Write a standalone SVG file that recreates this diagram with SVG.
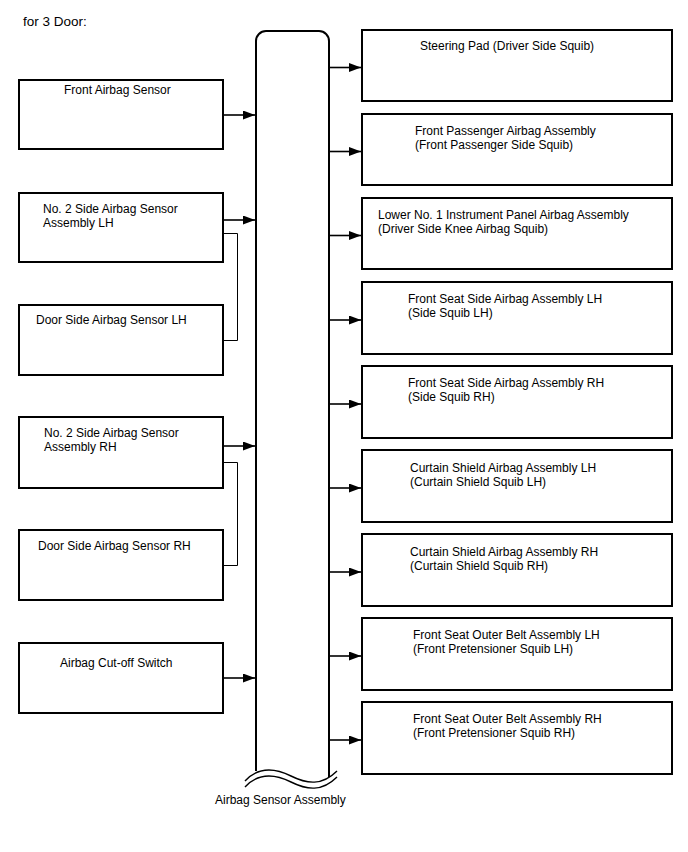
<svg xmlns="http://www.w3.org/2000/svg" width="688" height="852" viewBox="0 0 688 852">
<style>
  .box { fill: #fff; stroke: #000; stroke-width: 2; }
  .t { font-family: "Liberation Sans", Arial, sans-serif; font-size: 12px; fill: #000; }
  .arrow { stroke: #000; stroke-width: 1.6; fill: none; marker-end: url(#ah); }
  .bracket { stroke: #000; stroke-width: 1; fill: none; }
  .wave { stroke: #000; stroke-width: 1.4; fill: none; }
  .bar { stroke: #000; stroke-width: 2; fill: none; }
</style>
<defs>
  <marker id="ah" markerUnits="userSpaceOnUse" markerWidth="13" markerHeight="10" refX="12" refY="4.5" orient="auto">
    <path d="M0,0 L12,4.5 L0,9 Z" fill="#000"/>
  </marker>
</defs>
<rect width="688" height="852" fill="#fff"/>
<text class="t" x="23" y="26" style="font-size:13.5px">for 3 Door:</text>

<g id="airbag-sensor-assembly">
  <path class="bar" d="M256,771 L256,41 A10,10 0 0 1 266,31 L319,31 A10,10 0 0 1 329,41 L329,777"/>
  <path class="wave" d="M245,781 C258,767 275,768 291,776 S322,786 337,771"/>
  <path class="wave" d="M245,787 C258,773 275,774 291,782 S322,792 337,777"/>
  <text class="t" x="215" y="804">Airbag Sensor Assembly</text>
</g>

<g id="front-airbag-sensor">
  <rect class="box" x="19" y="80" width="204" height="69"/>
  <text class="t" x="64" y="94">Front Airbag Sensor</text>
</g>
<g id="no2-side-lh">
  <rect class="box" x="19" y="193" width="204" height="69"/>
  <text class="t" x="43" y="213">No. 2 Side Airbag Sensor</text>
  <text class="t" x="43" y="227">Assembly LH</text>
</g>
<g id="door-side-lh">
  <rect class="box" x="19" y="305" width="204" height="70"/>
  <text class="t" x="36" y="324">Door Side Airbag Sensor LH</text>
</g>
<g id="no2-side-rh">
  <rect class="box" x="19" y="417" width="204" height="71"/>
  <text class="t" x="44" y="437">No. 2 Side Airbag Sensor</text>
  <text class="t" x="44" y="451">Assembly RH</text>
</g>
<g id="door-side-rh">
  <rect class="box" x="19" y="530" width="204" height="70"/>
  <text class="t" x="38" y="550">Door Side Airbag Sensor RH</text>
</g>
<g id="cutoff-switch">
  <rect class="box" x="19" y="643" width="204" height="70"/>
  <text class="t" x="60" y="667">Airbag Cut-off Switch</text>
</g>

<g id="steering-pad">
  <rect class="box" x="362" y="30" width="310" height="71"/>
  <text class="t" x="420" y="50">Steering Pad (Driver Side Squib)</text>
</g>
<g id="front-passenger">
  <rect class="box" x="362" y="114" width="310" height="71"/>
  <text class="t" x="415" y="135">Front Passenger Airbag Assembly</text>
  <text class="t" x="415" y="149">(Front Passenger Side Squib)</text>
</g>
<g id="lower-no1">
  <rect class="box" x="362" y="198" width="310" height="71"/>
  <text class="t" x="378" y="219">Lower No. 1 Instrument Panel Airbag Assembly</text>
  <text class="t" x="378" y="233">(Driver Side Knee Airbag Squib)</text>
</g>
<g id="seat-side-lh">
  <rect class="box" x="362" y="282" width="310" height="72"/>
  <text class="t" x="408" y="303">Front Seat Side Airbag Assembly LH</text>
  <text class="t" x="408" y="317">(Side Squib LH)</text>
</g>
<g id="seat-side-rh">
  <rect class="box" x="362" y="366" width="310" height="72"/>
  <text class="t" x="408" y="387">Front Seat Side Airbag Assembly RH</text>
  <text class="t" x="408" y="401">(Side Squib RH)</text>
</g>
<g id="curtain-lh">
  <rect class="box" x="362" y="450" width="310" height="72"/>
  <text class="t" x="410" y="472">Curtain Shield Airbag Assembly LH</text>
  <text class="t" x="410" y="486">(Curtain Shield Squib LH)</text>
</g>
<g id="curtain-rh">
  <rect class="box" x="362" y="534" width="310" height="72"/>
  <text class="t" x="410" y="556">Curtain Shield Airbag Assembly RH</text>
  <text class="t" x="410" y="570">(Curtain Shield Squib RH)</text>
</g>
<g id="belt-lh">
  <rect class="box" x="362" y="618" width="310" height="72"/>
  <text class="t" x="413" y="639">Front Seat Outer Belt Assembly LH</text>
  <text class="t" x="413" y="653">(Front Pretensioner Squib LH)</text>
</g>
<g id="belt-rh">
  <rect class="box" x="362" y="702" width="310" height="72"/>
  <text class="t" x="413" y="723">Front Seat Outer Belt Assembly RH</text>
  <text class="t" x="413" y="737">(Front Pretensioner Squib RH)</text>
</g>

<g id="connectors">
  <line class="arrow" x1="223" y1="115" x2="255" y2="115"/>
  <line class="arrow" x1="223" y1="220" x2="255" y2="220"/>
  <line class="arrow" x1="223" y1="446" x2="255" y2="446"/>
  <line class="arrow" x1="223" y1="678" x2="255" y2="678"/>
  <polyline class="bracket" points="223,233.5 237.5,233.5 237.5,340.5 223,340.5"/>
  <polyline class="bracket" points="223,462.5 237.5,462.5 237.5,565.5 223,565.5"/>
  <line class="arrow" x1="330" y1="67.5" x2="361" y2="67.5"/>
  <line class="arrow" x1="330" y1="151.5" x2="361" y2="151.5"/>
  <line class="arrow" x1="330" y1="235.5" x2="361" y2="235.5"/>
  <line class="arrow" x1="330" y1="320" x2="361" y2="320"/>
  <line class="arrow" x1="330" y1="404" x2="361" y2="404"/>
  <line class="arrow" x1="330" y1="488" x2="361" y2="488"/>
  <line class="arrow" x1="330" y1="572" x2="361" y2="572"/>
  <line class="arrow" x1="330" y1="656" x2="361" y2="656"/>
  <line class="arrow" x1="330" y1="740" x2="361" y2="740"/>
</g>
</svg>
